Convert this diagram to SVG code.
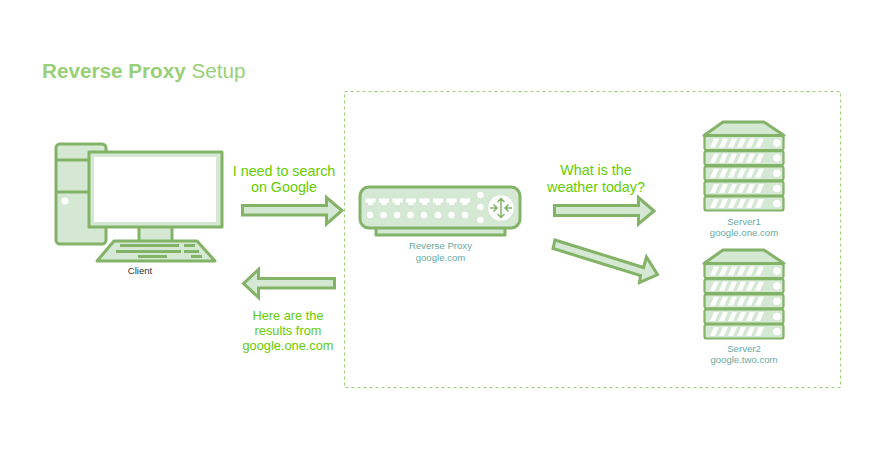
<svg xmlns="http://www.w3.org/2000/svg" width="880" height="460" viewBox="0 0 880 460">
<style>
.s{fill:#d5e8d4;stroke:#82b366;stroke-width:3;stroke-linejoin:round}
.u{fill:#d5e8d4;stroke:#82b366;stroke-width:2.2}
.a{fill:#d5e8d4;stroke:#82b366;stroke-width:3;stroke-linejoin:miter}
.g{fill:#82b366}
.w{fill:#fff}
.t{font-family:"Liberation Sans",Arial,sans-serif}
.say{font-size:14.3px;fill:#66cc00;text-anchor:middle}
.say2{font-size:12.8px;fill:#66cc00;text-anchor:middle}
.cap{font-size:9.6px;fill:#67ab9f;text-anchor:middle}
</style>
<defs>
<g id="srv">
<rect class="u" x="-39.500" y="0" width="79" height="14" rx="2"/>
<path class="w" d="M-34 11.500L-30 2.500H-25L-29 11.500ZM-25 11.500L-21 2.500H-16L-20 11.500ZM-16 11.500L-12 2.500H-7L-11 11.500ZM-7 11.500L-3 2.500H2L-2 11.500ZM2 11.500L6 2.500H11L7 11.500ZM11 11.500L15 2.500H20L16 11.500Z"/>
<circle class="w" cx="33" cy="7" r="3.800"/>
</g>
<g id="server">
<path class="s" d="M-40 14L-21 0.500H20L40 14Z"/>
<use href="#srv" y="14.500"/><use href="#srv" y="29.600"/><use href="#srv" y="44.800"/><use href="#srv" y="60"/><use href="#srv" y="75"/>
</g>
<path id="port" class="w" d="M0 0H10V4H7.500V6.500H2.500V4H0Z"/>
</defs>
<rect x="344.500" y="91.500" width="496" height="296" fill="none" stroke="#97d077" stroke-dasharray="3 3"/>
<text class="t" x="42" y="78" font-size="20.700" fill="#97d077"><tspan font-weight="bold">Reverse Proxy</tspan> Setup</text>
<g id="connectors">
<path class="a" d="M242.500 205.500H326.500V197.500L342 210.500L326.500 224V215H242.500Z"/>
<path class="a" d="M334.500 278.500H258.500V269.500L243.500 283.500L258.500 297.500V288H334.500Z"/>
<path class="a" d="M554.500 205.500H638.500V197.500L654 211L638.500 224V215.500H554.500Z"/>
<path class="a" d="M555 240L643.500 267.500L646.500 257L657.500 274.500L639.500 282.500L640.500 275.500L553 248.500Z"/>
</g>
<g id="client">
<rect class="s" x="56" y="144" width="50" height="100" rx="4"/>
<path d="M55 160H106M55 192H106" stroke="#82b366" stroke-width="3"/>
<circle class="w" cx="65" cy="201" r="3.500"/>
<rect class="s" x="139" y="226" width="33" height="16"/>
<path class="s" d="M114 241H197L215 261H97Z"/>
<path class="g" d="M120 244H179V247H120ZM184 244H195V247H184ZM116 250H181V253H116ZM184 250H199V253H184ZM138 255H167V258H138ZM191 255H202V258H191Z"/>
<rect class="s" x="89" y="152" width="133" height="75" stroke-linejoin="miter"/>
<rect class="w" x="94" y="157" width="122" height="65"/>
<text class="t" x="140" y="274" font-size="9.600" fill="#333" text-anchor="middle">Client</text>
</g>
<g id="proxy">
<rect class="s" x="376" y="226" width="129" height="9" stroke-linejoin="miter"/>
<rect class="s" x="360" y="187" width="160" height="41" rx="9"/>
<use href="#port" x="365.500" y="198.500"/><use href="#port" x="379" y="198.500"/><use href="#port" x="392.500" y="198.500"/><use href="#port" x="406" y="198.500"/><use href="#port" x="419.500" y="198.500"/><use href="#port" x="433" y="198.500"/><use href="#port" x="446.500" y="198.500"/><use href="#port" x="460" y="198.500"/>
<g class="w"><circle cx="370" cy="215" r="3.200"/><circle cx="383.500" cy="215" r="3.200"/><circle cx="397" cy="215" r="3.200"/><circle cx="410.500" cy="215" r="3.200"/><circle cx="424" cy="215" r="3.200"/><circle cx="438" cy="215" r="3.200"/><circle cx="451.500" cy="215" r="3.200"/><circle cx="465" cy="215" r="3.200"/><circle cx="480.500" cy="195" r="3.200"/><circle cx="480.500" cy="207" r="3.200"/><circle cx="480.500" cy="220" r="3.200"/><circle cx="501" cy="208" r="12.700"/></g>
<path d="M501 198.500V217.500M497.500 202L501 198.500L504.500 202M497.500 214L501 217.500L504.500 214M490 208H497M493.500 204.500L497 208L493.500 211.500M512 208H505M508.500 204.500L505 208L508.500 211.500" fill="none" stroke="#82b366" stroke-width="1.500"/>
<text class="t cap" x="440.500" y="249">Reverse Proxy</text>
<text class="t cap" x="440.500" y="261">google.com</text>
</g>
<g id="server1">
<use href="#server" x="744" y="121.500"/>
<text class="t cap" x="744" y="225">Server1</text>
<text class="t cap" x="744" y="236">google.one.com</text>
</g>
<g id="server2">
<use href="#server" x="744" y="249.500"/>
<text class="t cap" x="744" y="352">Server2</text>
<text class="t cap" x="744" y="363">google.two.com</text>
</g>
<g class="t">
<text class="say" x="284" y="176">I need to search</text>
<text class="say" x="284" y="192">on Google</text>
<text class="say" x="596" y="175">What is the</text>
<text class="say" x="596" y="192">weather today?</text>
<text class="say2" x="288" y="320">Here are the</text>
<text class="say2" x="288" y="335">results from</text>
<text class="say2" x="288" y="350">google.one.com</text>
</g>
</svg>
